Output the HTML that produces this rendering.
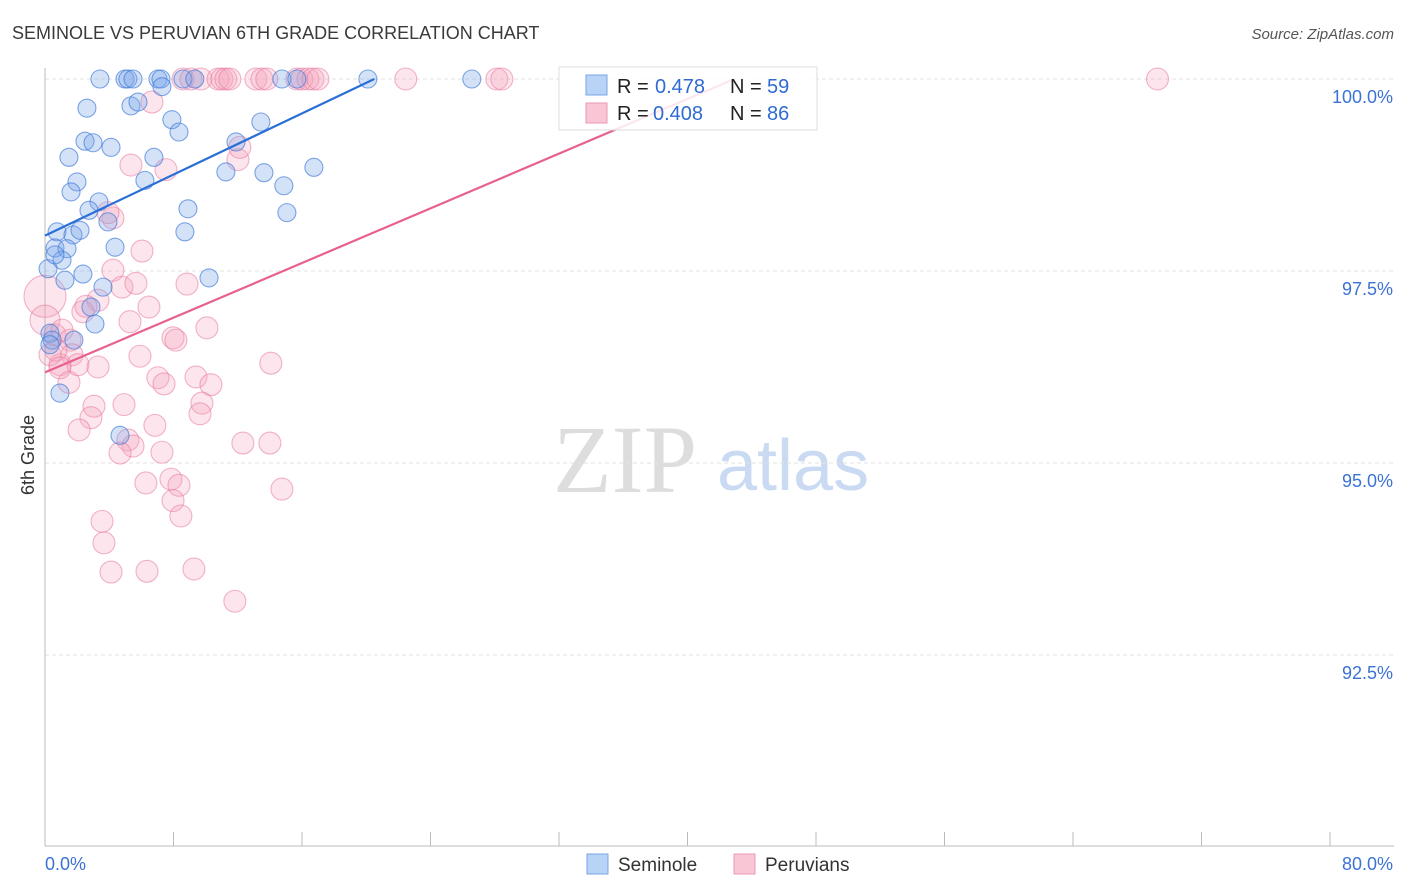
<!DOCTYPE html>
<html><head><meta charset="utf-8"><style>
body{margin:0;background:#fff;font-family:"Liberation Sans",sans-serif;}
svg{display:block}
</style></head><body>
<svg id="chart" width="1406" height="892">
<text x="12" y="39" font-size="18" fill="#3a3a3a">SEMINOLE VS PERUVIAN 6TH GRADE CORRELATION CHART</text>
<text x="1394" y="39" font-size="15" fill="#555" font-style="italic" text-anchor="end">Source: ZipAtlas.com</text>
<g>
<text x="553" y="492" font-size="96" font-family="Liberation Serif,serif" fill="#ddd">ZIP</text>
<text x="717" y="490" font-size="72" fill="#c9daf2">atlas</text>
</g>
<g id="grid"></g>
<g id="axes"></g>
<g id="pts"></g>
<g id="trend"></g>
<text transform="translate(34,455) rotate(-90)" font-size="18" fill="#333" text-anchor="middle">6th Grade</text>
<g>
<rect x="559" y="67" width="258" height="63" fill="rgba(255,255,255,0.85)" stroke="#ddd"/>
<rect x="586" y="75" width="21" height="20" fill="#b8d3f5" stroke="#7aa6e6"/>
<rect x="586" y="103" width="21" height="20" fill="#f9c6d6" stroke="#eb98b3"/>
<text x="617" y="93" font-size="20" fill="#222">R = </text><text x="655" y="93" font-size="20" fill="#2f6bd2">0.478</text>
<text x="730" y="93" font-size="20" fill="#222">N = </text><text x="767" y="93" font-size="20" fill="#2f6bd2">59</text>
<text x="617" y="120" font-size="20" fill="#222">R = </text><text x="653" y="120" font-size="20" fill="#2f6bd2">0.408</text>
<text x="730" y="120" font-size="20" fill="#222">N = </text><text x="767" y="120" font-size="20" fill="#2f6bd2">86</text>
</g>
<g>
<rect x="587" y="854" width="21" height="20" fill="#b8d3f5" stroke="#7aa6e6"/>
<text x="618" y="871" font-size="19" fill="#333">Seminole</text>
<rect x="734" y="854" width="21" height="20" fill="#f9c6d6" stroke="#eb98b3"/>
<text x="765" y="871" font-size="19" fill="#333">Peruvians</text>
</g>
</svg>
<script>
const yTicks=[100,97.5,95,92.5];
const yTickLabels=["100.0%","97.5%","95.0%","92.5%"];
const xAxisLabels=["0.0%","80.0%"];
const seminoleX=[3.42,4.98,5.16,5.48,7.03,7.22,8.59,9.33,14.75,15.68,20.1,26.57,7.28,2.61,5.35,5.79,7.90,8.34,13.44,2.49,2.99,4.11,1.49,6.78,11.89,11.26,13.63,16.74,1.99,1.62,6.22,14.87,3.36,2.74,8.90,15.06,3.92,0.75,1.74,2.18,8.71,0.62,1.37,4.36,0.19,1.06,2.36,1.24,10.21,3.61,2.86,3.11,0.31,0.44,1.80,0.93,4.67,0.62,0.31];
const seminoleY=[100,100,100,100,100,100,100,100,100,100,100,100,99.90,99.62,99.65,99.70,99.47,99.31,99.44,99.19,99.17,99.11,98.98,98.98,99.18,98.79,98.78,98.85,98.66,98.53,98.68,98.61,98.40,98.29,98.31,98.26,98.14,98.01,97.97,98.03,98.01,97.80,97.79,97.81,97.53,97.64,97.46,97.38,97.41,97.29,97.03,96.81,96.69,96.60,96.60,95.91,95.36,97.71,96.54];
const peruX=[6.66,5.35,7.53,12.01,12.13,4.23,3.92,6.04,8.84,4.23,4.79,5.66,6.47,3.30,2.36,2.55,5.29,10.08,7.97,8.15,0,0,0.62,1.06,1.56,1.68,0.93,1.49,2.05,3.30,5.91,7.03,7.41,9.40,10.33,14.06,3.05,4.92,9.77,9.65,2.86,2.12,6.84,5.16,5.48,4.67,7.28,12.32,14.0,6.28,7.84,8.34,7.97,8.46,14.75,3.55,3.67,4.11,6.35,9.27,11.82,0.31,0.68,0.93,8.59,9.09,9.71,10.77,11.01,11.26,11.51,13.13,13.50,13.81,15.68,15.99,16.37,16.68,16.99,22.46,28.13,28.44,69.26];
const peruY=[99.70,98.88,98.82,98.95,99.11,98.19,98.26,97.76,97.33,97.51,97.29,97.34,97.03,97.12,96.97,97.04,96.84,96.76,96.63,96.60,97.17,96.86,96.67,96.73,96.60,96.41,96.28,96.05,96.28,96.25,96.39,96.11,96.03,96.12,96.02,96.30,95.74,95.76,95.78,95.64,95.59,95.43,95.49,95.30,95.22,95.13,95.14,95.26,95.26,94.74,94.79,94.71,94.51,94.31,94.66,94.24,93.96,93.58,93.59,93.62,93.20,96.41,96.47,96.24,100,100,100,100,100,100,100,100,100,100,100,100,100,100,100,100,100,100,100];
const trendSeminole=[97.96,0.0995];
const trendPeru=[96.18,0.089];
const X0=45,X1=1330,Y100=79,PXY=76.8;
const xs=v=>X0+v*(X1-X0)/80;
const ys=v=>Y100+(100-v)*PXY;
const NS='http://www.w3.org/2000/svg';
function mk(p,t,a){const e=document.createElementNS(NS,t);for(const k in a)e.setAttribute(k,a[k]);p.appendChild(e);return e;}
const grid=document.getElementById('grid'),axes=document.getElementById('axes'),pts=document.getElementById('pts'),tr=document.getElementById('trend');
yTicks.forEach((t,i)=>{
 const l=mk(grid,'line',{x1:45,x2:1394,y1:ys(t),y2:ys(t),stroke:'#e2e2e2','stroke-dasharray':'4,3'});
 
 
 const tx=mk(axes,'text',{x:1393,y:ys(t)+24,'font-size':18,fill:'#3b73d4','text-anchor':'end'});
 tx.textContent=yTickLabels[i];
 
 
});
const ya=mk(axes,'line',{x1:45,x2:45,y1:68,y2:846,stroke:'#bbb'});


const xa=mk(axes,'line',{x1:45,x2:1394,y1:846,y2:846,stroke:'#bbb'});


for(let i=0;i<=10;i++){const v=i*8;const t=mk(axes,'line',{x1:xs(v),x2:xs(v),y1:832,y2:846,stroke:'#bbb'});
 
 }
const xl0=mk(axes,'text',{x:45,y:870,'font-size':18,fill:'#3b73d4'});xl0.textContent=xAxisLabels[0];


const xl1=mk(axes,'text',{x:1393,y:870,'font-size':18,fill:'#3b73d4','text-anchor':'end'});xl1.textContent=xAxisLabels[1];


peruX.forEach((x,i)=>{const r=i===20?21:(i===21?15:11);
 const c=mk(pts,'circle',{cx:xs(x),cy:ys(peruY[i]),r:r,fill:'rgba(244,160,188,0.28)',stroke:'rgba(232,120,158,0.55)','stroke-width':1.1});
 
 });
seminoleX.forEach((x,i)=>{
 const c=mk(pts,'circle',{cx:xs(x),cy:ys(seminoleY[i]),r:9,fill:'rgba(120,165,232,0.32)',stroke:'rgba(60,120,215,0.65)','stroke-width':1.1});
 
 });
function trend(p,col,name){const xe=(100-p[0])/p[1];
 const l=mk(tr,'line',{x1:xs(0),y1:ys(p[0]),x2:xs(xe),y2:ys(100),stroke:col,'stroke-width':2.2});
 
 }
trend(trendPeru,'#e8608e','peruvians-trendline');
trend(trendSeminole,'#2a6fd6','seminole-trendline');
</script>
</body></html>
